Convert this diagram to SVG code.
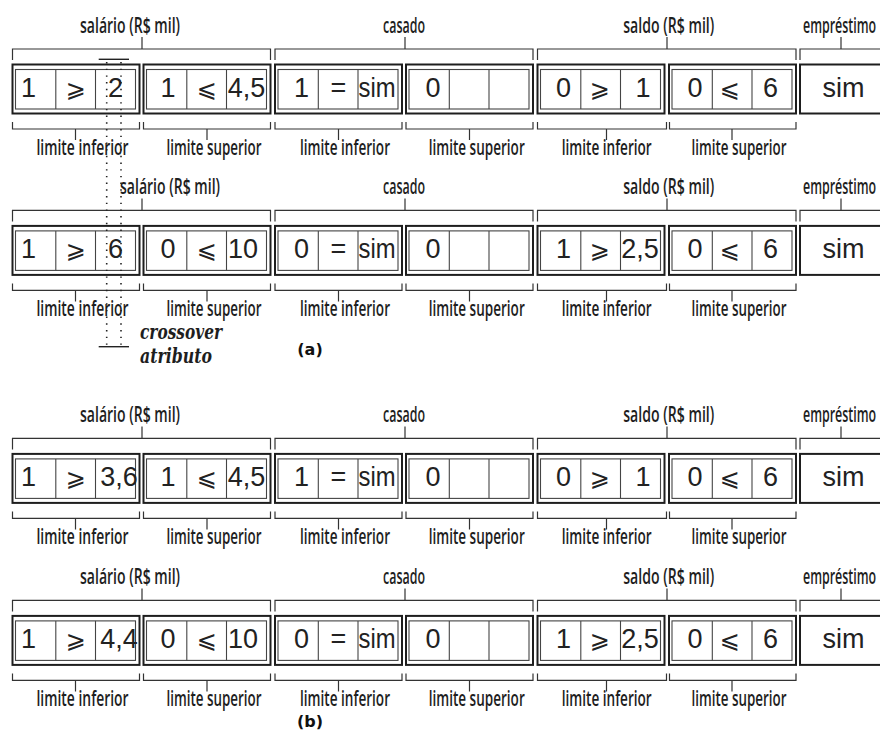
<svg xmlns="http://www.w3.org/2000/svg" xmlns:xlink="http://www.w3.org/1999/xlink" width="880" height="742" viewBox="0 0 880 742">
<style>
.o{fill:#fff;stroke:#1e1e1e;stroke-width:2}
.i{fill:none;stroke:#444;stroke-width:1.1}
.d{stroke:#444;stroke-width:1.1}
.br{fill:none;stroke:#333;stroke-width:1.2}
.lb{font-family:"Open Sans","Liberation Sans",sans-serif;font-size:22px;font-weight:600;fill:#1e1e1e;text-anchor:middle}
.st{text-anchor:start}
.n{font-family:"Liberation Sans",Arial,sans-serif;font-size:27px;fill:#222;text-anchor:middle}
.s{font-family:"DejaVu Sans",sans-serif;font-size:24px;fill:#222;text-anchor:middle}
.cx{font-family:"DejaVu Serif","Liberation Serif",serif;font-weight:bold;font-style:italic;font-size:20px;fill:#1e1e1e}
.cap{font-family:"DejaVu Sans",sans-serif;font-weight:bold;font-size:16px;fill:#111;text-anchor:middle}
.cl{stroke:#222;stroke-width:1.4}
.dot{stroke:#222;stroke-width:1.6;stroke-dasharray:1.4 5.3}
</style>
<defs>
<g id="b3">
<rect class="o" x="0" y="0" width="127" height="49"/>
<rect class="i" x="3" y="5" width="120" height="39.5"/>
<line class="d" x1="43.3" y1="5" x2="43.3" y2="44.5"/>
<line class="d" x1="83" y1="5" x2="83" y2="44.5"/>
</g>
<path id="brk" d="M12.5,60V49H270.5V60M142,49V37M275,60V49H533V60M405,49V37M537.5,60V49H796V60M667,49V37M800,60V49H885M841,49V37M12.5,122V129H139.5V122M75.5,129V140M143.5,122V129H270.5V122M207,129V140M275,122V129H402V122M338.5,129V140M406,122V129H533V122M469.5,129V140M537.5,122V129H666.5V122M606.5,129V140M669.5,122V129H796V122M732,129V140"/>
</defs>

<g id="connectors">
<use xlink:href="#brk" class="br"/>
<use xlink:href="#brk" class="br" transform="translate(0,161.4)"/>
<use xlink:href="#brk" class="br" transform="translate(0,389.4)"/>
<use xlink:href="#brk" class="br" transform="translate(0,551.4)"/>
</g>

<!-- Row 1 -->
<g id="row1">
<g id="r1-labels">
<text class="lb" transform="translate(130,33) scale(0.66,1)" textLength="151.5" lengthAdjust="spacingAndGlyphs">salário (R$ mil)</text>
<text class="lb" transform="translate(404,33) scale(0.66,1)" textLength="63.6" lengthAdjust="spacingAndGlyphs">casado</text>
<text class="lb" transform="translate(668.7,33) scale(0.66,1)" textLength="137.9" lengthAdjust="spacingAndGlyphs">saldo (R$ mil)</text>
<text class="lb st" transform="translate(803,33) scale(0.58,1)" textLength="126" lengthAdjust="spacingAndGlyphs">empréstimo</text>
<text class="lb" transform="translate(82.5,155) scale(0.66,1)" textLength="139.4" lengthAdjust="spacingAndGlyphs">limite inferior</text>
<text class="lb" transform="translate(214,155) scale(0.66,1)" textLength="143.9" lengthAdjust="spacingAndGlyphs">limite superior</text>
<text class="lb" transform="translate(345,155) scale(0.66,1)" textLength="136.4" lengthAdjust="spacingAndGlyphs">limite inferior</text>
<text class="lb" transform="translate(476.7,155) scale(0.66,1)" textLength="145.5" lengthAdjust="spacingAndGlyphs">limite superior</text>
<text class="lb" transform="translate(606.7,155) scale(0.66,1)" textLength="136.4" lengthAdjust="spacingAndGlyphs">limite inferior</text>
<text class="lb" transform="translate(739,155) scale(0.66,1)" textLength="143.9" lengthAdjust="spacingAndGlyphs">limite superior</text>
</g>
<g id="r1-sal-inf"><use xlink:href="#b3" x="12.5" y="64.5"/><text class="n" x="28.5" y="97">1</text><text class="s" x="75.5" y="97">⩾</text><text class="n" x="115.5" y="97">2</text></g>
<g id="r1-sal-sup"><use xlink:href="#b3" x="143.5" y="64.5"/><text class="n" x="168" y="97">1</text><text class="s" x="206.5" y="97">⩽</text><text class="n" x="246.5" y="97">4,5</text></g>
<g id="r1-cas-inf"><use xlink:href="#b3" x="275" y="64.5"/><text class="n" x="301.5" y="97">1</text><text class="n" x="338.5" y="97">=</text><text class="n" x="377" y="97" textLength="37" lengthAdjust="spacingAndGlyphs">sim</text></g>
<g id="r1-cas-sup"><use xlink:href="#b3" x="406" y="64.5"/><text class="n" x="433" y="97">0</text></g>
<g id="r1-sld-inf"><use xlink:href="#b3" x="537.5" y="64.5"/><text class="n" x="563.5" y="97">0</text><text class="s" x="599.5" y="97">⩾</text><text class="n" x="643" y="97">1</text></g>
<g id="r1-sld-sup"><use xlink:href="#b3" x="669" y="64.5"/><text class="n" x="695" y="97">0</text><text class="s" x="729.5" y="97">⩽</text><text class="n" x="770.5" y="97">6</text></g>
<g id="r1-emp"><rect class="o" x="800" y="64.5" width="90" height="49"/><text class="n" x="843.5" y="97">sim</text></g>
</g>

<!-- Row 2 -->
<g id="row2" transform="translate(0,161.4)">
<g id="r2-labels">
<text class="lb" transform="translate(170,33) scale(0.66,1)" textLength="151.5" lengthAdjust="spacingAndGlyphs">salário (R$ mil)</text>
<text class="lb" transform="translate(404,33) scale(0.66,1)" textLength="63.6" lengthAdjust="spacingAndGlyphs">casado</text>
<text class="lb" transform="translate(668.7,33) scale(0.66,1)" textLength="137.9" lengthAdjust="spacingAndGlyphs">saldo (R$ mil)</text>
<text class="lb st" transform="translate(803,33) scale(0.58,1)" textLength="126" lengthAdjust="spacingAndGlyphs">empréstimo</text>
<text class="lb" transform="translate(82.5,155) scale(0.66,1)" textLength="139.4" lengthAdjust="spacingAndGlyphs">limite inferior</text>
<text class="lb" transform="translate(214,155) scale(0.66,1)" textLength="143.9" lengthAdjust="spacingAndGlyphs">limite superior</text>
<text class="lb" transform="translate(345,155) scale(0.66,1)" textLength="136.4" lengthAdjust="spacingAndGlyphs">limite inferior</text>
<text class="lb" transform="translate(476.7,155) scale(0.66,1)" textLength="145.5" lengthAdjust="spacingAndGlyphs">limite superior</text>
<text class="lb" transform="translate(606.7,155) scale(0.66,1)" textLength="136.4" lengthAdjust="spacingAndGlyphs">limite inferior</text>
<text class="lb" transform="translate(739,155) scale(0.66,1)" textLength="143.9" lengthAdjust="spacingAndGlyphs">limite superior</text>
</g>
<g id="r2-sal-inf"><use xlink:href="#b3" x="12.5" y="64.5"/><text class="n" x="28.5" y="97">1</text><text class="s" x="75.5" y="97">⩾</text><text class="n" x="115.5" y="97">6</text></g>
<g id="r2-sal-sup"><use xlink:href="#b3" x="143.5" y="64.5"/><text class="n" x="168" y="97">0</text><text class="s" x="206.5" y="97">⩽</text><text class="n" x="243" y="97">10</text></g>
<g id="r2-cas-inf"><use xlink:href="#b3" x="275" y="64.5"/><text class="n" x="301.5" y="97">0</text><text class="n" x="338.5" y="97">=</text><text class="n" x="377" y="97" textLength="37" lengthAdjust="spacingAndGlyphs">sim</text></g>
<g id="r2-cas-sup"><use xlink:href="#b3" x="406" y="64.5"/><text class="n" x="433" y="97">0</text></g>
<g id="r2-sld-inf"><use xlink:href="#b3" x="537.5" y="64.5"/><text class="n" x="563.5" y="97">1</text><text class="s" x="599.5" y="97">⩾</text><text class="n" x="640" y="97">2,5</text></g>
<g id="r2-sld-sup"><use xlink:href="#b3" x="669" y="64.5"/><text class="n" x="695" y="97">0</text><text class="s" x="729.5" y="97">⩽</text><text class="n" x="770.5" y="97">6</text></g>
<g id="r2-emp"><rect class="o" x="800" y="64.5" width="90" height="49"/><text class="n" x="843.5" y="97">sim</text></g>
</g>

<!-- Row 3 -->
<g id="row3" transform="translate(0,389.4)">
<g id="r3-labels">
<text class="lb" transform="translate(130,33) scale(0.66,1)" textLength="151.5" lengthAdjust="spacingAndGlyphs">salário (R$ mil)</text>
<text class="lb" transform="translate(404,33) scale(0.66,1)" textLength="63.6" lengthAdjust="spacingAndGlyphs">casado</text>
<text class="lb" transform="translate(668.7,33) scale(0.66,1)" textLength="137.9" lengthAdjust="spacingAndGlyphs">saldo (R$ mil)</text>
<text class="lb st" transform="translate(803,33) scale(0.58,1)" textLength="126" lengthAdjust="spacingAndGlyphs">empréstimo</text>
<text class="lb" transform="translate(82.5,155) scale(0.66,1)" textLength="139.4" lengthAdjust="spacingAndGlyphs">limite inferior</text>
<text class="lb" transform="translate(214,155) scale(0.66,1)" textLength="143.9" lengthAdjust="spacingAndGlyphs">limite superior</text>
<text class="lb" transform="translate(345,155) scale(0.66,1)" textLength="136.4" lengthAdjust="spacingAndGlyphs">limite inferior</text>
<text class="lb" transform="translate(476.7,155) scale(0.66,1)" textLength="145.5" lengthAdjust="spacingAndGlyphs">limite superior</text>
<text class="lb" transform="translate(606.7,155) scale(0.66,1)" textLength="136.4" lengthAdjust="spacingAndGlyphs">limite inferior</text>
<text class="lb" transform="translate(739,155) scale(0.66,1)" textLength="143.9" lengthAdjust="spacingAndGlyphs">limite superior</text>
</g>
<g id="r3-sal-inf"><use xlink:href="#b3" x="12.5" y="64.5"/><text class="n" x="28.5" y="97">1</text><text class="s" x="75.5" y="97">⩾</text><text class="n" x="119" y="97">3,6</text></g>
<g id="r3-sal-sup"><use xlink:href="#b3" x="143.5" y="64.5"/><text class="n" x="168" y="97">1</text><text class="s" x="206.5" y="97">⩽</text><text class="n" x="246.5" y="97">4,5</text></g>
<g id="r3-cas-inf"><use xlink:href="#b3" x="275" y="64.5"/><text class="n" x="301.5" y="97">1</text><text class="n" x="338.5" y="97">=</text><text class="n" x="377" y="97" textLength="37" lengthAdjust="spacingAndGlyphs">sim</text></g>
<g id="r3-cas-sup"><use xlink:href="#b3" x="406" y="64.5"/><text class="n" x="433" y="97">0</text></g>
<g id="r3-sld-inf"><use xlink:href="#b3" x="537.5" y="64.5"/><text class="n" x="563.5" y="97">0</text><text class="s" x="599.5" y="97">⩾</text><text class="n" x="643" y="97">1</text></g>
<g id="r3-sld-sup"><use xlink:href="#b3" x="669" y="64.5"/><text class="n" x="695" y="97">0</text><text class="s" x="729.5" y="97">⩽</text><text class="n" x="770.5" y="97">6</text></g>
<g id="r3-emp"><rect class="o" x="800" y="64.5" width="90" height="49"/><text class="n" x="843.5" y="97">sim</text></g>
</g>

<!-- Row 4 -->
<g id="row4" transform="translate(0,551.4)">
<g id="r4-labels">
<text class="lb" transform="translate(130,33) scale(0.66,1)" textLength="151.5" lengthAdjust="spacingAndGlyphs">salário (R$ mil)</text>
<text class="lb" transform="translate(404,33) scale(0.66,1)" textLength="63.6" lengthAdjust="spacingAndGlyphs">casado</text>
<text class="lb" transform="translate(668.7,33) scale(0.66,1)" textLength="137.9" lengthAdjust="spacingAndGlyphs">saldo (R$ mil)</text>
<text class="lb st" transform="translate(803,33) scale(0.58,1)" textLength="126" lengthAdjust="spacingAndGlyphs">empréstimo</text>
<text class="lb" transform="translate(82.5,155) scale(0.66,1)" textLength="139.4" lengthAdjust="spacingAndGlyphs">limite inferior</text>
<text class="lb" transform="translate(214,155) scale(0.66,1)" textLength="143.9" lengthAdjust="spacingAndGlyphs">limite superior</text>
<text class="lb" transform="translate(345,155) scale(0.66,1)" textLength="136.4" lengthAdjust="spacingAndGlyphs">limite inferior</text>
<text class="lb" transform="translate(476.7,155) scale(0.66,1)" textLength="145.5" lengthAdjust="spacingAndGlyphs">limite superior</text>
<text class="lb" transform="translate(606.7,155) scale(0.66,1)" textLength="136.4" lengthAdjust="spacingAndGlyphs">limite inferior</text>
<text class="lb" transform="translate(739,155) scale(0.66,1)" textLength="143.9" lengthAdjust="spacingAndGlyphs">limite superior</text>
</g>
<g id="r4-sal-inf"><use xlink:href="#b3" x="12.5" y="64.5"/><text class="n" x="28.5" y="97">1</text><text class="s" x="75.5" y="97">⩾</text><text class="n" x="119" y="97">4,4</text></g>
<g id="r4-sal-sup"><use xlink:href="#b3" x="143.5" y="64.5"/><text class="n" x="168" y="97">0</text><text class="s" x="206.5" y="97">⩽</text><text class="n" x="243" y="97">10</text></g>
<g id="r4-cas-inf"><use xlink:href="#b3" x="275" y="64.5"/><text class="n" x="301.5" y="97">0</text><text class="n" x="338.5" y="97">=</text><text class="n" x="377" y="97" textLength="37" lengthAdjust="spacingAndGlyphs">sim</text></g>
<g id="r4-cas-sup"><use xlink:href="#b3" x="406" y="64.5"/><text class="n" x="433" y="97">0</text></g>
<g id="r4-sld-inf"><use xlink:href="#b3" x="537.5" y="64.5"/><text class="n" x="563.5" y="97">1</text><text class="s" x="599.5" y="97">⩾</text><text class="n" x="640" y="97">2,5</text></g>
<g id="r4-sld-sup"><use xlink:href="#b3" x="669" y="64.5"/><text class="n" x="695" y="97">0</text><text class="s" x="729.5" y="97">⩽</text><text class="n" x="770.5" y="97">6</text></g>
<g id="r4-emp"><rect class="o" x="800" y="64.5" width="90" height="49"/><text class="n" x="843.5" y="97">sim</text></g>
</g>

<g id="crossover">
<line class="cl" x1="98.7" y1="59.3" x2="129" y2="59.3"/>
<line class="cl" x1="98.7" y1="346.7" x2="129" y2="346.7"/>
<line class="dot" x1="106.7" y1="62" x2="106.7" y2="345"/>
<line class="dot" x1="121" y1="62" x2="121" y2="345"/>
<text class="cx" x="140" y="339.3" textLength="82" lengthAdjust="spacingAndGlyphs">crossover</text>
<text class="cx" x="140" y="363.3" textLength="72" lengthAdjust="spacingAndGlyphs">atributo</text>
</g>

<g id="captions">
<text class="cap" x="310" y="355">(a)</text>
<text class="cap" x="310" y="727">(b)</text>
</g>
</svg>
